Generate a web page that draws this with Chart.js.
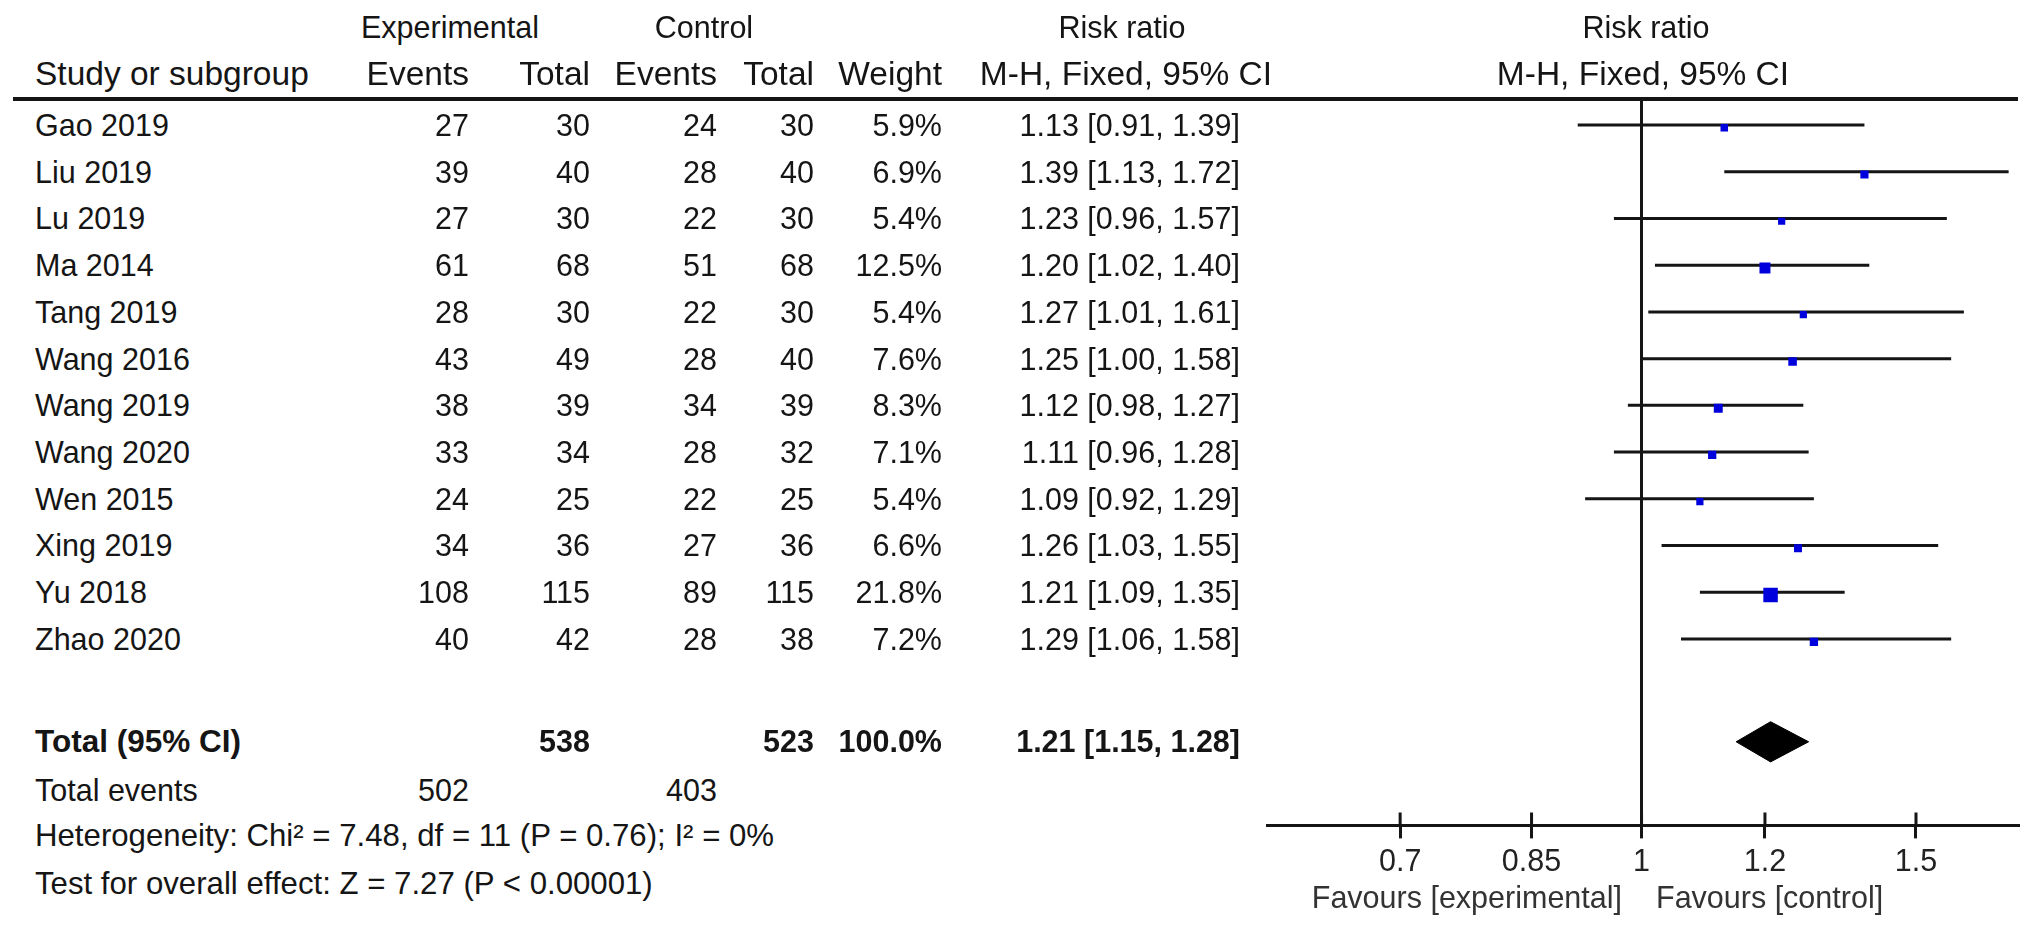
<!DOCTYPE html>
<html>
<head>
<meta charset="utf-8">
<script src="https://cdn.jsdelivr.net/npm/chart.js@4.4.1/dist/chart.umd.min.js"></script>
<style>
  html, body { margin: 0; padding: 0; background: #fff; }
  #page { position: relative; width: 2032px; height: 937px; overflow: hidden;
          font-family: "Liberation Sans", Arial, sans-serif; font-size: 30.5px; color: #151515; }
  #page .t { position: absolute; white-space: nowrap; line-height: 36px; height: 36px; }
  #rule { position: absolute; left: 13px; top: 97px; width: 2005px; height: 4px; background: #151515; }
  #plot { position: absolute; left: 1200px; top: 0; width: 832px; height: 937px; }
</style>
</head>
<body>
<div id="page">
  <div id="rule"></div>
  <div id="plot"><canvas id="forest"></canvas></div>
</div>
<script>
// Forest plot: risk ratio (M-H, fixed, 95% CI), experimental vs control.

const studies = ['Gao 2019', 'Liu 2019', 'Lu 2019', 'Ma 2014', 'Tang 2019', 'Wang 2016',
  'Wang 2019', 'Wang 2020', 'Wen 2015', 'Xing 2019', 'Yu 2018', 'Zhao 2020'];
const expEvents = [27, 39, 27, 61, 28, 43, 38, 33, 24, 34, 108, 40];
const expTotal = [30, 40, 30, 68, 30, 49, 39, 34, 25, 36, 115, 42];
const ctrlEvents = [24, 28, 22, 51, 22, 28, 34, 28, 22, 27, 89, 28];
const ctrlTotal = [30, 40, 30, 68, 30, 40, 39, 32, 25, 36, 115, 38];
const weights = [5.9, 6.9, 5.4, 12.5, 5.4, 7.6, 8.3, 7.1, 5.4, 6.6, 21.8, 7.2];
const riskRatio = [1.13, 1.39, 1.23, 1.20, 1.27, 1.25, 1.12, 1.11, 1.09, 1.26, 1.21, 1.29];
const ciLow = [0.91, 1.13, 0.96, 1.02, 1.01, 1.00, 0.98, 0.96, 0.92, 1.03, 1.09, 1.06];
const ciHigh = [1.39, 1.72, 1.57, 1.40, 1.61, 1.58, 1.27, 1.28, 1.29, 1.55, 1.35, 1.58];

const pooled = [1.21, 1.15, 1.28]; // estimate, low, high
const totals = [538, 523];         // experimental, control participants
const totalEvents = [502, 403];
const xTicks = [0.7, 0.85, 1, 1.2, 1.5];

// layout (px)
const ROW0 = 125, ROW_H = 46.7;   // centre of first study row, row pitch
const COL = { name: 35, expEv: 469, expTot: 590, ctlEv: 717, ctlTot: 814, weight: 942, ci: 1240 };
const X_MIN = 0.575, X_MAX = 1.744;
const PLOT_TOP = 99, PLOT_BOTTOM = 825;
const Y_MIN = (PLOT_TOP - ROW0) / ROW_H, Y_MAX = (PLOT_BOTTOM - ROW0) / ROW_H;
const TOTAL_ROW = 13.2;
const SQUARE_DY = 0.06;

const page = document.getElementById('page');

function put(str, x, y, align, opts = {}) {
  const d = document.createElement('div');
  d.className = 't';
  d.textContent = str;
  d.style.top = (y - 18) + 'px';
  if (align === 'left') {
    d.style.left = x + 'px';
  } else if (align === 'right') {
    d.style.left = (x - 500) + 'px';
    d.style.width = '500px';
    d.style.textAlign = 'right';
  } else {
    d.style.left = (x - 400) + 'px';
    d.style.width = '800px';
    d.style.textAlign = 'center';
  }
  if (opts.bold) d.style.fontWeight = 'bold';
  if (opts.color) d.style.color = opts.color;
  if (opts.size) d.style.fontSize = opts.size + 'px';
  page.appendChild(d);
}

const ciText = (m, l, h) => `${m.toFixed(2)} [${l.toFixed(2)}, ${h.toFixed(2)}]`;

// headers
put('Experimental', 450, 27, 'center');
put('Control', 704, 27, 'center');
put('Risk ratio', 1122, 27, 'center');
put('Risk ratio', 1646, 27, 'center');
const H2 = { size: 33.5 };
put('Study or subgroup', COL.name, 74, 'left', H2);
put('Events', COL.expEv, 74, 'right', H2);
put('Total', COL.expTot, 74, 'right', H2);
put('Events', COL.ctlEv, 74, 'right', H2);
put('Total', COL.ctlTot, 74, 'right', H2);
put('Weight', COL.weight, 74, 'right', H2);
put('M-H, Fixed, 95% CI', 1126, 74, 'center', H2);
put('M-H, Fixed, 95% CI', 1643, 74, 'center', H2);

// study rows
studies.forEach((s, i) => {
  const y = ROW0 + ROW_H * i;
  put(s, COL.name, y, 'left');
  put(String(expEvents[i]), COL.expEv, y, 'right');
  put(String(expTotal[i]), COL.expTot, y, 'right');
  put(String(ctrlEvents[i]), COL.ctlEv, y, 'right');
  put(String(ctrlTotal[i]), COL.ctlTot, y, 'right');
  put(weights[i].toFixed(1) + '%', COL.weight, y, 'right');
  put(ciText(riskRatio[i], ciLow[i], ciHigh[i]), COL.ci, y, 'right');
});

// totals and footer
const B = { bold: true };
put('Total (95% CI)', COL.name, 741, 'left', { bold: true, size: 31.5 });
put(String(totals[0]), COL.expTot, 741, 'right', B);
put(String(totals[1]), COL.ctlTot, 741, 'right', B);
put('100.0%', COL.weight, 741, 'right', B);
put(ciText(pooled[0], pooled[1], pooled[2]), COL.ci, 741, 'right', B);
put('Total events', COL.name, 790, 'left');
put(String(totalEvents[0]), COL.expEv, 790, 'right');
put(String(totalEvents[1]), COL.ctlEv, 790, 'right');
put('Heterogeneity: Chi\u00b2 = 7.48, df = 11 (P = 0.76); I\u00b2 = 0%', COL.name, 836, 'left', { size: 31.2 });
put('Test for overall effect: Z = 7.27 (P < 0.00001)', COL.name, 884, 'left', { size: 31.2 });
put('Favours [experimental]', 1622, 897, 'right', { color: '#333' });
put('Favours [control]', 1656, 897, 'left', { color: '#333' });

// chart datasets
const ciLines = studies.map((s, i) => ({
  type: 'line',
  label: s,
  data: [{ x: ciLow[i], y: i }, { x: ciHigh[i], y: i }],
  borderColor: '#151515',
  borderWidth: 3,
  pointRadius: 0,
  order: 3
}));

const squares = {
  type: 'scatter',
  label: 'RR',
  data: riskRatio.map((v, i) => ({ x: v, y: i + SQUARE_DY })),
  pointStyle: 'rect',
  pointRadius: weights.map((w) => (3.1 * Math.sqrt(w)) / Math.SQRT2),
  backgroundColor: '#0000dd',
  borderWidth: 0,
  order: 0
};

const DIAMOND_H = 0.43;
const diamond = {
  type: 'line',
  label: 'Total',
  data: [
    { x: pooled[1], y: TOTAL_ROW },
    { x: pooled[0], y: TOTAL_ROW - DIAMOND_H },
    { x: pooled[2], y: TOTAL_ROW },
    { x: pooled[0], y: TOTAL_ROW + DIAMOND_H },
    { x: pooled[1], y: TOTAL_ROW }
  ],
  fill: 'shape',
  backgroundColor: '#000',
  borderColor: '#000',
  borderWidth: 1,
  pointRadius: 0,
  order: 1
};

// upper half of the axis tick marks (Chart.js draws the lower half)
const tickStubs = {
  type: 'line',
  label: 'ticks',
  data: xTicks.flatMap((t) => [{ x: t, y: Y_MAX - 13 / ROW_H }, { x: t, y: Y_MAX }, { x: t, y: null }]),
  borderColor: '#151515',
  borderWidth: 3,
  pointRadius: 0,
  spanGaps: false,
  order: 2
};

Chart.defaults.font.family = '"Liberation Sans", Arial, sans-serif';
Chart.defaults.font.size = 30.5;

new Chart(document.getElementById('forest'), {
  type: 'scatter',
  data: { datasets: [squares, diamond, tickStubs, ...ciLines] },
  options: {
    responsive: true,
    maintainAspectRatio: false,
    animation: false,
    layout: { padding: { left: 67, right: 14, top: PLOT_TOP, bottom: 50 } },
    plugins: { legend: { display: false }, tooltip: { enabled: false } },
    scales: {
      x: {
        type: 'logarithmic',
        min: X_MIN,
        max: X_MAX,
        bounds: 'data',
        afterBuildTicks: (scale) => { scale.ticks = xTicks.map((v) => ({ value: v })); },
        ticks: { callback: (v) => String(v), color: '#222', padding: 6, autoSkip: false, maxRotation: 0 },
        grid: {
          color: (c) => (c.tick && c.tick.value === 1 ? '#151515' : 'rgba(0,0,0,0)'),
          lineWidth: 3,
          tickColor: '#151515',
          tickLength: 13,
          tickWidth: 3
        },
        border: { display: true, color: '#151515', width: 3 }
      },
      y: { type: 'linear', min: Y_MIN, max: Y_MAX, reverse: true, display: false }
    }
  }
});
</script>
</body>
</html>
